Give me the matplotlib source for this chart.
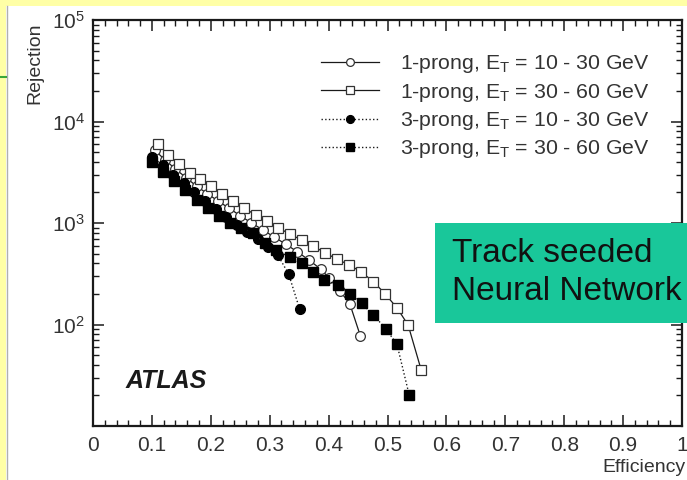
import matplotlib
matplotlib.use("Agg")
import matplotlib.pyplot as plt
from matplotlib.patches import Rectangle
from matplotlib.lines import Line2D
from matplotlib.ticker import MultipleLocator, LogLocator, NullFormatter, FixedLocator

plt.rcParams["font.family"] = ["Liberation Sans", "DejaVu Sans"]
plt.rcParams["mathtext.default"] = "regular"

# 1-prong, ET = 10 - 30 GeV (open circles, solid)
eff_1p_lo = [0.105, 0.122, 0.140, 0.158, 0.176, 0.194, 0.212, 0.231, 0.250, 0.269,
             0.288, 0.307, 0.327, 0.347, 0.367, 0.387, 0.400, 0.419, 0.436, 0.454]
rej_1p_lo = [5200, 4200, 3400, 2800, 2300, 1950, 1650, 1400, 1180, 1000,
             860, 730, 620, 520, 430, 350, 290, 215, 160, 77]

# 1-prong, ET = 30 - 60 GeV (open squares, solid)
eff_1p_hi = [0.110, 0.128, 0.146, 0.164, 0.182, 0.200, 0.219, 0.238, 0.257, 0.276,
             0.295, 0.314, 0.334, 0.354, 0.374, 0.394, 0.414, 0.434, 0.455, 0.476,
             0.496, 0.516, 0.535, 0.557]
rej_1p_hi = [6000, 4700, 3800, 3100, 2700, 2300, 1950, 1650, 1400, 1200,
             1050, 900, 780, 680, 590, 510, 440, 390, 330, 265,
             200, 146, 99, 36]

# 3-prong, ET = 10 - 30 GeV (filled circles, dotted)
eff_3p_lo = [0.100, 0.118, 0.136, 0.154, 0.172, 0.190, 0.208, 0.226, 0.244, 0.262,
             0.280, 0.297, 0.314, 0.332, 0.351]
rej_3p_lo = [4500, 3700, 3000, 2450, 2000, 1650, 1380, 1150, 960, 820,
             690, 580, 480, 316, 141]

# 3-prong, ET = 30 - 60 GeV (filled squares, dotted)
eff_3p_hi = [0.100, 0.119, 0.138, 0.157, 0.176, 0.195, 0.214, 0.233, 0.252, 0.272,
             0.292, 0.311, 0.334, 0.354, 0.373, 0.393, 0.416, 0.436, 0.456, 0.476,
             0.497, 0.516, 0.537]
rej_3p_hi = [4000, 3200, 2600, 2100, 1700, 1400, 1180, 1000, 900, 800,
             630, 540, 460, 400, 330, 275, 245, 200, 162, 124,
             91, 64, 20]

labels = [r"1-prong, E$_T$ = 10 - 30 GeV", r"1-prong, E$_T$ = 30 - 60 GeV",
          r"3-prong, E$_T$ = 10 - 30 GeV", r"3-prong, E$_T$ = 30 - 60 GeV"]

W, H = 687, 480
yellow = "#FFFFA6"
teal = "#19C79A"
ink = "#1a1a1a"
grey_txt = "#333333"

fig = plt.figure(figsize=(W / 100, H / 100), dpi=100)
fig.patch.set_facecolor("white")

# slide background strips
fig.patches.append(Rectangle((0, 1 - 6 / H), 1, 6 / H, transform=fig.transFigure,
                             facecolor=yellow, edgecolor="none", zorder=0))
fig.patches.append(Rectangle((0, 0), 6 / W, 1, transform=fig.transFigure,
                             facecolor=yellow, edgecolor="none", zorder=0))
fig.lines.append(Line2D([6.5 / W, 6.5 / W], [0, 1 - 6 / H], transform=fig.transFigure,
                        color="#b0b0b0", lw=1))
fig.lines.append(Line2D([0, 6 / W], [1 - 77 / H, 1 - 77 / H], transform=fig.transFigure,
                        color="#3aa63a", lw=1.5))

ax = fig.add_axes([93 / W, 1 - 426 / H, (682 - 93) / W, (426 - 20) / H])

ms = 7
ax.plot(eff_1p_lo, rej_1p_lo, "-", color=ink, lw=0.9, marker="o", ms=ms,
        mfc="white", mec="#333333", mew=0.9, label=labels[0])
ax.plot(eff_1p_hi, rej_1p_hi, "-", color=ink, lw=0.9, marker="s", ms=ms,
        mfc="white", mec="#333333", mew=0.9, label=labels[1])
ax.plot(eff_3p_lo, rej_3p_lo, ":", color=ink, lw=1.0, marker="o", ms=ms,
        mfc="black", mec="black", label=labels[2])
ax.plot(eff_3p_hi, rej_3p_hi, ":", color=ink, lw=1.0, marker="s", ms=ms,
        mfc="black", mec="black", label=labels[3])

ax.set_yscale("log")
ax.set_xlim(0, 1)
ax.set_ylim(10, 1e5)

ax.xaxis.set_minor_locator(MultipleLocator(0.02))
ax.set_xticks([0, 0.1, 0.2, 0.3, 0.4, 0.5, 0.6, 0.7, 0.8, 0.9, 1.0])
ax.set_xticklabels(["0", "0.1", "0.2", "0.3", "0.4", "0.5", "0.6", "0.7", "0.8", "0.9", "1"])
ax.yaxis.set_major_locator(FixedLocator([10, 100, 1000, 10000, 100000]))
ax.set_yticklabels(["", r"10$^{2}$", r"10$^{3}$", r"10$^{4}$", r"10$^{5}$"])
ax.yaxis.set_minor_locator(LogLocator(base=10, subs=range(2, 10)))
ax.yaxis.set_minor_formatter(NullFormatter())

ax.tick_params(which="both", direction="in", top=True, right=True, colors=ink,
               labelsize=15, labelcolor=grey_txt)
ax.tick_params(which="major", length=8, width=1.1)
ax.tick_params(which="minor", length=4, width=1.0)
ax.tick_params(axis="x", pad=7)
ax.tick_params(axis="y", pad=6)
for s in ax.spines.values():
    s.set_linewidth(1.6)
    s.set_color(ink)

leg = ax.legend(loc="upper right", bbox_to_anchor=(0.945, 0.918), frameon=False,
                fontsize=15.3, handlelength=2.7, handletextpad=1.0, labelspacing=0.3,
                borderaxespad=0, borderpad=0, markerscale=0.8)
for t in leg.get_texts():
    t.set_color(grey_txt)

ax.text(0.055, 0.11, "ATLAS", transform=ax.transAxes, fontsize=18,
        fontweight="bold", fontstyle="italic", color=ink, va="center")

fig.text(35 / W, 1 - 22 / H, "Rejection", rotation=90, ha="center", va="top",
         fontsize=14, color=grey_txt)
fig.text(685 / W, 1 - 467 / H, "Efficiency", ha="right", va="center",
         fontsize=14, color=grey_txt)

# green annotation box from the slide
fig.patches.append(Rectangle((435 / W, 1 - 323 / H), 300 / W, 100 / H,
                             transform=fig.transFigure, facecolor=teal,
                             edgecolor="none", zorder=5))
fig.text(452 / W, 1 - 253 / H, "Track seeded", fontsize=24, color="#111111",
         va="center", ha="left", zorder=6)
fig.text(452 / W, 1 - 291 / H, "Neural Network", fontsize=24, color="#111111",
         va="center", ha="left", zorder=6)

fig.savefig("out.png", dpi=100)
